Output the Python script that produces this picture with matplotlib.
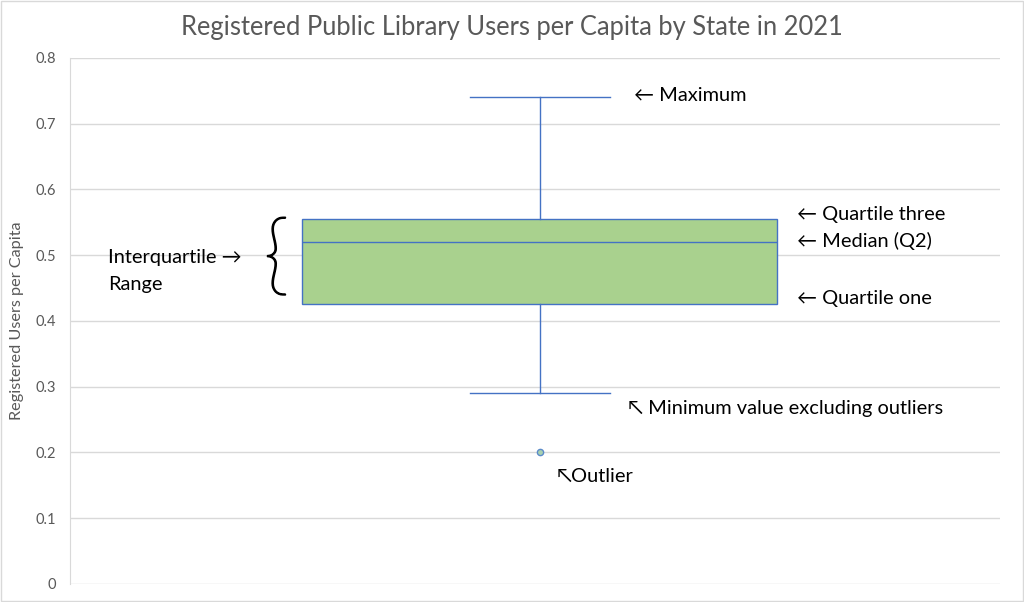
import matplotlib.pyplot as plt
import matplotlib.patheffects as pe
from matplotlib.patches import Rectangle

# box plot summary
minimum = 0.29
q1 = 0.425
median = 0.52
q3 = 0.555
maximum = 0.74
outliers = [0.2]

yticks = [0, 0.1, 0.2, 0.3, 0.4, 0.5, 0.6, 0.7, 0.8]
title = 'Registered Public Library Users per Capita by State in 2021'
ylabel = 'Registered Users per Capita'

fonts = ['Lato', 'DejaVu Sans']
plt.rcParams['font.family'] = fonts

fig = plt.figure(figsize=(10.24, 6.02), dpi=100)
ax = fig.add_axes([0.068, 0.030, 0.909, 0.874])

stats = [{'whislo': minimum, 'q1': q1, 'med': median, 'q3': q3,
          'whishi': maximum, 'fliers': outliers}]
blue = '#4472C4'
ax.bxp(stats, positions=[1.005], widths=0.51, capwidths=0.15, patch_artist=True,
       boxprops=dict(facecolor='#A9D18E', edgecolor=blue, linewidth=1),
       medianprops=dict(color=blue, linewidth=1),
       whiskerprops=dict(color=blue, linewidth=1),
       capprops=dict(color=blue, linewidth=1),
       flierprops=dict(marker='o', markersize=4.5, markerfacecolor='#A9D1B0',
                       markeredgecolor='#5B8BC9', markeredgewidth=1))

ax.set_xlim(0.5, 1.5)
ax.set_ylim(0, 0.8)
ax.set_yticks(yticks)
ax.set_yticklabels([f'{t:g}' for t in yticks], color='#595959', fontsize=10.5)
ax.set_xticks([])
ax.tick_params(axis='y', length=0, pad=10)
ax.grid(axis='y', color='#D9D9D9', linewidth=1)
ax.set_axisbelow(True)
for s in ax.spines.values():
    s.set_visible(False)
ax.spines['left'].set_visible(True)
ax.spines['left'].set_color('#D9D9D9')

ax.set_ylabel(ylabel, color='#595959', fontsize=11.7, labelpad=8)
fig.text(0.5, 0.955, title, ha='center', va='center', color='#595959', fontsize=18.4)

# callout labels
kw = dict(fontsize=14.4, color='black', va='center', family=fonts)
ax.text(1.1065, 0.742, '← Maximum', **kw)
ax.text(1.2817, 0.561, '← Quartile three', **kw)
ax.text(1.2817, 0.522, '← Median (Q2)', **kw)
ax.text(1.2817, 0.4335, '← Quartile one', **kw)
ax.text(1.10, 0.266, '↖ Minimum value excluding outliers', **kw)
ax.text(1.0237, 0.164, '↖Outlier', **kw)
ax.text(0.5409, 0.496, 'Interquartile →', **kw)
ax.text(0.5409, 0.456, 'Range', **kw)
ax.text(0.722, 0.492, '{', fontsize=64, color='black', ha='center', va='center',
        family=fonts, fontweight='light',
        path_effects=[pe.withStroke(linewidth=1.2, foreground='black')])

fig.patches.append(Rectangle((0.001, 0.001), 0.998, 0.998, transform=fig.transFigure,
                             fill=False, edgecolor='#D9D9D9', linewidth=1))

fig.savefig('out.png', dpi=100)
